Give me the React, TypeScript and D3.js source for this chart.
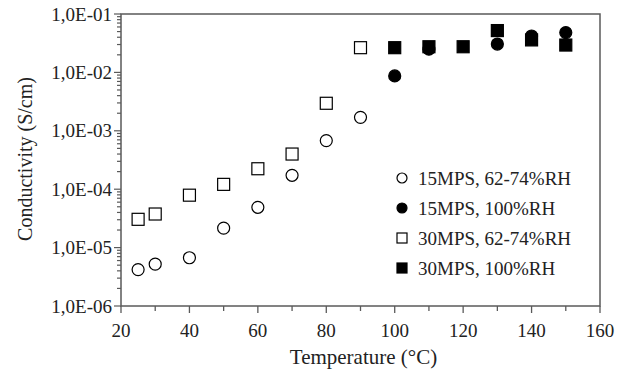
import React, { useEffect, useRef } from 'react';
import * as d3 from 'd3';

// Temperatures (°C)
const tempsLow = [25, 30, 40, 50, 60, 70, 80, 90];
const tempsHigh = [100, 110, 120, 130, 140, 150];
const tempsHighCircle = [100, 110, 130, 140, 150];

// Conductivity (S/cm)
const mps15Low = [4.2e-6, 5.2e-6, 6.7e-6, 2.15e-5, 4.9e-5, 1.73e-4, 6.8e-4, 1.7e-3];
const mps15Full = [8.7e-3, 2.5e-2, 3.06e-2, 4.2e-2, 4.8e-2];
const mps30Low = [3.05e-5, 3.76e-5, 7.9e-5, 1.21e-4, 2.24e-4, 4.0e-4, 2.96e-3, 2.65e-2];
const mps30Full = [2.65e-2, 2.75e-2, 2.75e-2, 5.2e-2, 3.6e-2, 2.94e-2];

const xTicks = [20, 40, 60, 80, 100, 120, 140, 160];
const yTickLabels = ['1,0E-06', '1,0E-05', '1,0E-04', '1,0E-03', '1,0E-02', '1,0E-01'];
const legendLabels = ['15MPS, 62-74%RH', '15MPS, 100%RH', '30MPS, 62-74%RH', '30MPS, 100%RH'];

type Series = { x: number[]; y: number[]; shape: 'circle' | 'square'; filled: boolean };

export default function App() {
  const svgRef = useRef<SVGSVGElement>(null);

  useEffect(() => {
    document.body.style.margin = '0';
    if (!svgRef.current) return;
    const width = 624;
    const height = 378;
    const margin = { top: 14, right: 24, bottom: 72, left: 121 };
    const innerWidth = width - margin.left - margin.right;
    const innerHeight = height - margin.top - margin.bottom;
    const font = '"Liberation Serif", "Times New Roman", serif';
    const axisColor = '#5a5a5a';

    const svg = d3.select(svgRef.current);
    svg.selectAll('*').remove();
    svg.attr('width', width).attr('height', height);

    const g = svg.append('g').attr('transform', `translate(${margin.left},${margin.top})`);

    const x = d3.scaleLinear().domain([20, 160]).range([0, innerWidth]);
    const y = d3.scaleLog().domain([1e-6, 1e-1]).range([innerHeight, 0]);

    // Cadre
    g.append('rect')
      .attr('x', 0).attr('y', 0)
      .attr('width', innerWidth).attr('height', innerHeight)
      .attr('fill', 'none')
      .attr('stroke', axisColor)
      .attr('stroke-width', 1.5);

    // Graduations X (majeures tous les 20, mineures tous les 10)
    d3.range(20, 161, 10).forEach(v => {
      const major = v % 20 === 0;
      g.append('line')
        .attr('x1', x(v)).attr('x2', x(v))
        .attr('y1', innerHeight).attr('y2', innerHeight + (major ? 7 : 5))
        .attr('stroke', axisColor).attr('stroke-width', 1.3);
    });
    xTicks.forEach(v => {
      g.append('text')
        .attr('x', x(v)).attr('y', innerHeight + 31)
        .attr('text-anchor', 'middle')
        .style('font-family', font).style('font-size', '19px').attr('fill', '#222')
        .text(v);
    });

    // Graduations Y (log, avec mineures)
    for (let e = -6; e <= -1; e++) {
      const maxK = e === -1 ? 1 : 9;
      for (let k = 1; k <= maxK; k++) {
        const v = k * Math.pow(10, e);
        g.append('line')
          .attr('x1', k === 1 ? -7 : -4).attr('x2', 0)
          .attr('y1', y(v)).attr('y2', y(v))
          .attr('stroke', axisColor).attr('stroke-width', 1.2);
      }
    }
    yTickLabels.forEach((lab, i) => {
      g.append('text')
        .attr('x', -9).attr('y', y(Math.pow(10, -6 + i)))
        .attr('dy', '0.35em')
        .attr('text-anchor', 'end')
        .style('font-family', font).style('font-size', '19px').attr('fill', '#222')
        .text(lab);
    });

    // Titres des axes
    g.append('text')
      .attr('x', innerWidth / 2 + 3).attr('y', innerHeight + 58)
      .attr('text-anchor', 'middle')
      .style('font-family', font).style('font-size', '21px').attr('fill', '#222')
      .text('Temperature (°C)');

    g.append('text')
      .attr('transform', 'rotate(-90)')
      .attr('x', -145).attr('y', -margin.left + 32)
      .attr('text-anchor', 'middle')
      .style('font-family', font).style('font-size', '20px').attr('fill', '#222')
      .text('Conductivity (S/cm)');

    const series: Series[] = [
      { x: tempsLow, y: mps15Low, shape: 'circle', filled: false },
      { x: tempsHighCircle, y: mps15Full, shape: 'circle', filled: true },
      { x: tempsLow, y: mps30Low, shape: 'square', filled: false },
      { x: tempsHigh, y: mps30Full, shape: 'square', filled: true },
    ];

    const drawMarker = (sel: d3.Selection<SVGGElement, unknown, null, undefined>, s: Series, cx: number, cy: number, size: number) => {
      if (s.shape === 'circle') {
        sel.append('circle')
          .attr('cx', cx).attr('cy', cy).attr('r', size / 2)
          .attr('fill', s.filled ? '#000' : '#fff')
          .attr('stroke', '#000').attr('stroke-width', 1.2);
      } else {
        sel.append('rect')
          .attr('x', cx - size / 2).attr('y', cy - size / 2)
          .attr('width', size).attr('height', size)
          .attr('fill', s.filled ? '#000' : '#fff')
          .attr('stroke', '#000').attr('stroke-width', 1.2);
      }
    };

    const marks = g.append('g');
    series.forEach(s => {
      s.x.forEach((t, i) => drawMarker(marks, s, x(t), y(s.y[i]), 12));
    });

    // Légende
    const legend = g.append('g').attr('transform', `translate(${402 - margin.left}, ${178 - margin.top})`);
    series.forEach((s, i) => {
      drawMarker(legend, s, 0, i * 30, 10);
      legend.append('text')
        .attr('x', 16).attr('y', i * 30)
        .attr('dy', '0.35em')
        .style('font-family', font).style('font-size', '19px').attr('fill', '#222')
        .text(legendLabels[i]);
    });
  }, []);

  return <svg ref={svgRef} style={{ display: 'block' }}></svg>;
}
